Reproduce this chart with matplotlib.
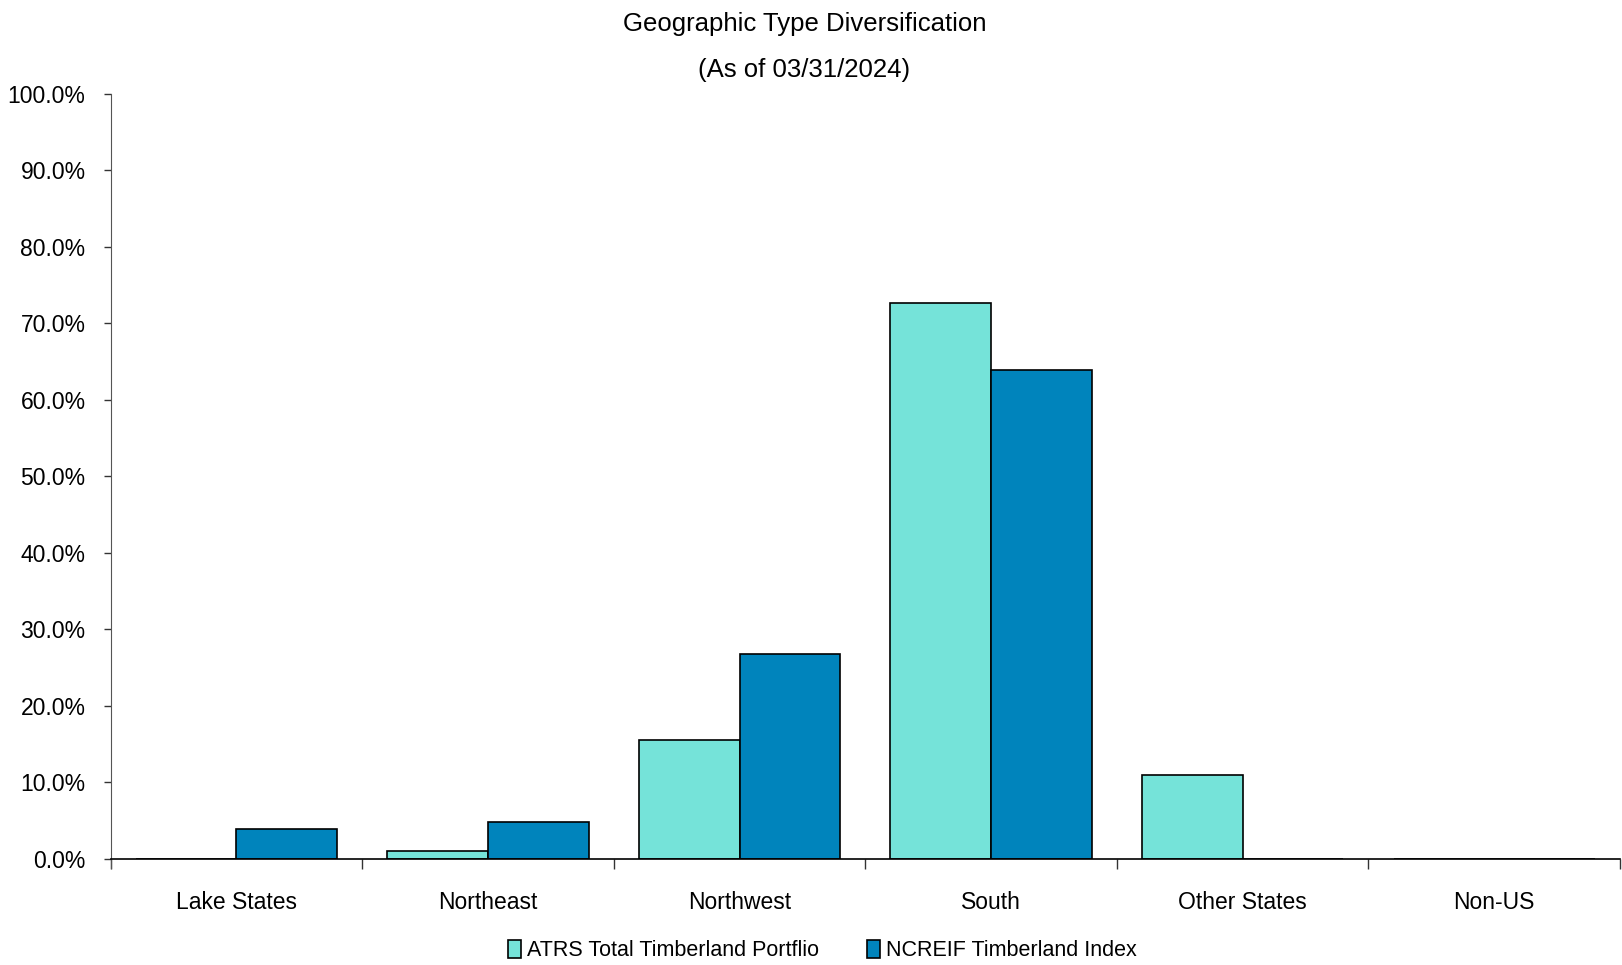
import numpy as np
import matplotlib
matplotlib.use("Agg")
import matplotlib.pyplot as plt
from matplotlib.ticker import FixedLocator, PercentFormatter

plt.rcParams['font.family'] = ['Liberation Sans Narrow', 'Liberation Sans', 'DejaVu Sans']

# --- data ---
regions = ["Lake States", "Northeast", "Northwest", "South", "Other States", "Non-US"]
atrs = [0.0, 1.0, 15.5, 72.7, 11.0, 0.0]
ncreif = [3.9, 4.8, 26.8, 63.9, 0.0, 0.0]
series_names = ["ATRS Total Timberland Portflio", "NCREIF Timberland Index"]

c_atrs = "#75E3D9"
c_ncreif = "#0084BC"

fig = plt.figure(figsize=(16.22, 9.65), dpi=100)
ax = fig.add_axes([0.0682, 0.1102, 0.9306, 0.7924])

x = np.arange(len(regions))
w = 0.4
ax.bar(x - w / 2, atrs, w, color=c_atrs, edgecolor="black", linewidth=1.2,
       label=series_names[0], zorder=2)
ax.bar(x + w / 2, ncreif, w, color=c_ncreif, edgecolor="black", linewidth=1.2,
       label=series_names[1], zorder=2)

ax.set_xlim(-0.5, len(regions) - 0.5)
ax.set_ylim(0, 100)
ax.set_yticks(np.arange(0, 101, 10))
ax.yaxis.set_major_formatter(PercentFormatter(decimals=1))

# category labels in the middle, tick marks on the boundaries
ax.set_xticks(x)
ax.set_xticklabels(regions)
ax.tick_params(axis="x", which="major", length=0, pad=23, labelsize=16.5)
ax.xaxis.set_minor_locator(FixedLocator(np.arange(-0.5, len(regions), 1.0)))
ax.tick_params(axis="x", which="minor", length=7, width=1, color="#333333")
ax.tick_params(axis="y", length=5, width=1, color="#333333", labelsize=16.5, pad=13)

for s in ["top", "right"]:
    ax.spines[s].set_visible(False)
ax.spines["left"].set_color("#555555")
ax.spines["left"].set_bounds(-1.2, 100)
ax.spines["bottom"].set_linewidth(1.2)

fig.text(0.496, 0.975, "Geographic Type Diversification", ha="center", va="center", fontsize=18.5)
fig.text(0.496, 0.927, "(As of 03/31/2024)", ha="center", va="center", fontsize=18.5)

fig.legend(loc="center", bbox_to_anchor=(0.507, 0.015), ncol=2, frameon=False,
           fontsize=15.5, handlelength=0.6, handleheight=0.9, handletextpad=0.3,
           columnspacing=2.2)

fig.savefig("out.png", dpi=100)
